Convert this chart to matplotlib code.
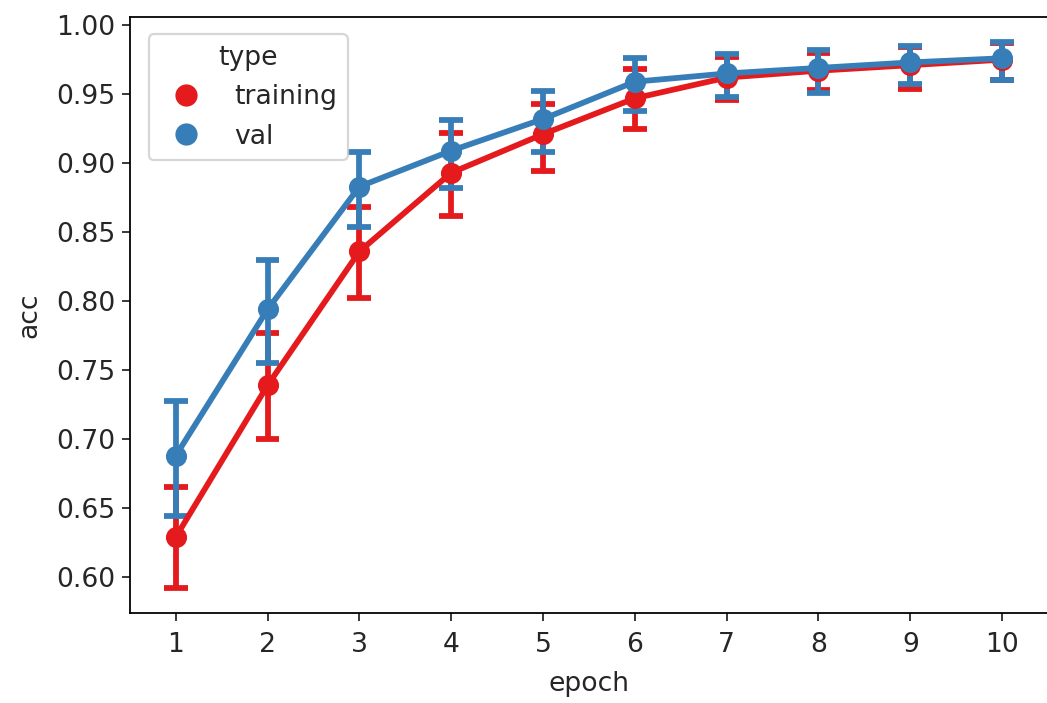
import matplotlib
matplotlib.use("Agg")
import matplotlib.pyplot as plt
from matplotlib.lines import Line2D

epochs = ["1", "2", "3", "4", "5", "6", "7", "8", "9", "10"]

train_mean = [0.629, 0.739, 0.836, 0.893, 0.921, 0.947, 0.962, 0.967, 0.971, 0.975]
train_lo   = [0.592, 0.700, 0.802, 0.862, 0.894, 0.925, 0.946, 0.953, 0.954, 0.960]
train_hi   = [0.665, 0.777, 0.868, 0.922, 0.943, 0.968, 0.977, 0.980, 0.984, 0.987]

val_mean = [0.688, 0.794, 0.883, 0.909, 0.932, 0.959, 0.965, 0.969, 0.973, 0.976]
val_lo   = [0.644, 0.755, 0.854, 0.882, 0.908, 0.938, 0.948, 0.951, 0.957, 0.960]
val_hi   = [0.728, 0.830, 0.908, 0.931, 0.952, 0.976, 0.979, 0.982, 0.985, 0.988]

series = [("training", "#e41a1c", train_mean, train_lo, train_hi),
          ("val", "#377eb8", val_mean, val_lo, val_hi)]

plt.rcParams["font.size"] = 12
plt.rcParams["text.color"] = "#262626"
plt.rcParams["axes.labelcolor"] = "#262626"
plt.rcParams["xtick.color"] = "#262626"
plt.rcParams["ytick.color"] = "#262626"

fig = plt.figure(figsize=(1047/160, 703/160), dpi=160)
ax = fig.add_axes([0.124, 0.128, 0.877, 0.848])

x = list(range(len(epochs)))
cap = 0.13
lw = 2.6
for name, col, m, lo, hi in series:
    for xi, l, h in zip(x, lo, hi):
        ax.plot([xi, xi], [l, h], color=col, lw=lw, solid_capstyle="butt", zorder=2)
        ax.plot([xi - cap, xi + cap], [l, l], color=col, lw=lw, solid_capstyle="butt", zorder=2)
        ax.plot([xi - cap, xi + cap], [h, h], color=col, lw=lw, solid_capstyle="butt", zorder=2)
    ax.plot(x, m, color=col, lw=lw, zorder=3)
    ax.plot(x, m, linestyle="none", marker="o", markersize=8.5, color=col, zorder=3)

ax.set_xticks(x)
ax.set_xticklabels(epochs)
ax.set_xlim(-0.5, 9.5)
ax.set_ylim(0.574, 1.006)
ax.set_yticks([0.60, 0.65, 0.70, 0.75, 0.80, 0.85, 0.90, 0.95, 1.00])
ax.set_yticklabels(["0.60", "0.65", "0.70", "0.75", "0.80", "0.85", "0.90", "0.95", "1.00"])
ax.tick_params(axis="x", pad=5)
ax.tick_params(axis="y", pad=3)
ax.set_xlabel("epoch", labelpad=6)
ax.set_ylabel("acc", labelpad=6)

handles = [Line2D([], [], linestyle="none", marker="o", markersize=9, color=c) for _, c, *_ in series]
ax.legend(handles, [s[0] for s in series], title="type", loc="upper left",
          title_fontsize=12, fontsize=12, labelspacing=0.5, borderpad=0.4,
          bbox_to_anchor=(0.006, 0.993))

fig.savefig("out.png", dpi=160)
